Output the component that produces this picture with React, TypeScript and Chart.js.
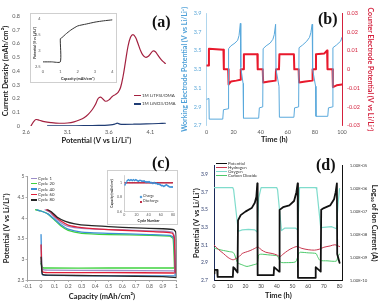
import React, { useEffect, useRef } from "react";
import { Chart, registerables } from "chart.js";
Chart.register(...registerables);

const FONT = "Lato, 'Open Sans', Roboto, sans-serif";

// ---------- Panel (a) ----------
const aPotTFSI = [2.66, 2.69, 2.72, 2.76, 2.82, 2.9, 3.0, 3.1, 3.18, 3.25, 3.3, 3.35, 3.4, 3.44, 3.47, 3.5, 3.53, 3.56, 3.6, 3.64, 3.68, 3.71, 3.74, 3.77, 3.8, 3.83, 3.86, 3.89, 3.92, 3.95, 3.98, 4.01, 4.04, 4.07, 4.1, 4.13, 4.16, 4.19, 4.22, 4.25, 4.28];
const aCurTFSI = [0, 0.03, 0.047, 0.042, 0.032, 0.025, 0.02, 0.022, 0.03, 0.045, 0.06, 0.085, 0.12, 0.16, 0.2, 0.21, 0.195, 0.18, 0.19, 0.215, 0.23, 0.245, 0.28, 0.36, 0.47, 0.58, 0.645, 0.665, 0.645, 0.6, 0.55, 0.515, 0.5, 0.505, 0.525, 0.545, 0.54, 0.515, 0.49, 0.47, 0.455];
const aPotNO3 = [2.86, 3.0, 3.2, 3.4, 3.55, 3.62, 3.67, 3.7, 3.73, 3.78, 3.9, 4.05, 4.2, 4.28];
const aCurNO3 = [0.002, 0.002, 0.002, 0.003, 0.005, 0.008, 0.014, 0.021, 0.014, 0.012, 0.013, 0.015, 0.018, 0.02];
const aXTicks = [2.6, 3.1, 3.6, 4.1];
const aYTicks = [0, 0.1, 0.2, 0.3, 0.4, 0.5, 0.6, 0.7, 0.8];
const aInsetCap = [0, 0.5, 1.0, 1.0, 1.1, 1.3, 1.6, 2.0, 2.5, 3.0, 3.5, 4.0];
const aInsetPot = [2.66, 2.66, 2.66, 3.38, 3.42, 3.52, 3.65, 3.78, 3.84, 3.9, 3.94, 3.97];
const aInsetXTicks = [0, 1, 2, 3, 4];
const aInsetYTicks = [2.5, 3, 3.5, 4];

// ---------- Panel (b) ----------
const bWETime = [0, 1.8, 2, 12, 12.5, 16, 16.3, 18, 21, 23, 24, 25, 25.3, 27, 27.3, 38.5, 39, 41.5, 41.8, 44, 47, 49, 50, 51, 51.3, 53.5, 53.8, 64.5, 65, 68, 68.3, 71, 74, 76, 77, 78, 78.3, 80.5, 80.8, 89.5, 90, 93, 93.3, 96, 99, 100];
const bWEPot = [2.98, 2.99, 2.77, 2.77, 2.87, 2.88, 3.52, 3.55, 3.58, 3.61, 3.66, 3.79, 3.32, 3.15, 2.78, 2.78, 2.89, 2.9, 3.52, 3.55, 3.58, 3.62, 3.67, 3.78, 3.3, 3.12, 2.79, 2.79, 2.89, 2.9, 3.53, 3.56, 3.6, 3.64, 3.69, 3.78, 3.3, 3.12, 2.8, 2.8, 2.89, 2.9, 3.53, 3.56, 3.6, 3.64];
const bCETime = [0, 1.5, 1.8, 12.5, 12.8, 16, 16.3, 18, 22, 25, 25.3, 27.3, 27.6, 37.5, 37.8, 41.5, 41.8, 46, 51, 51.3, 53.5, 53.8, 64.5, 64.8, 68, 68.3, 73, 78, 78.3, 80.5, 80.8, 87, 89, 89.3, 93, 93.3, 96, 100];
const bCEPot = [0.002, 0.002, 0.011, 0.0105, 0.0, 0.0, -0.008, -0.0065, -0.006, -0.0055, 0.0, 0.0, 0.008, 0.008, 0.0, 0.0, -0.007, -0.0065, -0.006, 0.0, 0.0, 0.008, 0.008, 0.0, 0.0, -0.007, -0.0065, -0.006, 0.0, 0.0, 0.008, 0.0085, 0.01, 0.0, 0.0, -0.0095, -0.0085, -0.008];
const bXTicks = [0, 20, 40, 60, 80, 100];
const bYLTicks = [2.7, 2.9, 3.1, 3.3, 3.5, 3.7, 3.9];
const bYRTicks = [-0.03, -0.02, -0.01, 0, 0.01, 0.02, 0.03];

// ---------- Panel (c) ----------
const cCycle1Dis = [[0, 2.95], [0.01, 2.76], [0.05, 2.74], [0.5, 2.73], [0.98, 2.72], [0.99, 2.7]];
const cCycle1Chg = [[0.03, 4.2], [0.06, 4.15], [0.1, 4.02], [0.15, 3.88], [0.2, 3.8], [0.3, 3.75], [0.5, 3.72], [0.7, 3.7], [0.9, 3.68], [0.97, 3.66], [0.985, 3.55], [0.99, 2.72]];
const cCycle20Dis = [[0, 2.9], [0.01, 2.8], [0.05, 2.79], [0.5, 2.79], [0.98, 2.79]];
const cCycle20Chg = [[-0.04, 4.2], [0, 4.17], [0.05, 4.1], [0.1, 3.95], [0.15, 3.8], [0.2, 3.7], [0.3, 3.63], [0.5, 3.6], [0.8, 3.58], [0.95, 3.56], [0.975, 3.5], [0.985, 2.8]];
const cCycle40Dis = [[0, 3.6], [0.005, 2.85], [0.01, 2.63], [0.05, 2.61], [0.5, 2.6], [0.98, 2.6]];
const cCycle40Chg = [[-0.03, 4.2], [0, 4.17], [0.05, 4.1], [0.1, 3.97], [0.15, 3.83], [0.2, 3.73], [0.3, 3.66], [0.5, 3.63], [0.8, 3.6], [0.95, 3.58], [0.98, 3.52], [0.99, 2.6]];
const cCycle60Dis = [[0, 3.35], [0.005, 2.8], [0.01, 2.7], [0.05, 2.68], [0.5, 2.68], [0.98, 2.67]];
const cCycle60Chg = [[0.04, 4.2], [0.07, 4.15], [0.1, 4.05], [0.15, 3.92], [0.2, 3.83], [0.3, 3.77], [0.5, 3.72], [0.7, 3.69], [0.9, 3.66], [0.97, 3.63], [0.985, 3.5], [0.99, 2.67]];
const cCycle80Dis = [[0, 3.05], [0.005, 2.75], [0.01, 2.64], [0.05, 2.62], [0.5, 2.6], [0.9, 2.58], [1.0, 2.56]];
const cCycle80Chg = [[0.05, 4.2], [0.08, 4.14], [0.12, 4.02], [0.18, 3.92], [0.25, 3.86], [0.35, 3.82], [0.5, 3.79], [0.7, 3.76], [0.9, 3.74], [0.98, 3.72], [0.995, 3.65], [1.0, 3.3], [1.0, 2.56]];
const cXTicks = [-0.1, 0, 0.1, 0.2, 0.3, 0.4, 0.5, 0.6, 0.7, 0.8, 0.9, 1];
const cYTicks = [2.5, 3, 3.5, 4, 4.5, 5];
const cCycleNames = ["Cycle 1", "Cycle 20", "Cycle 40", "Cycle 60", "Cycle 80"];
const cInsetCycle = [1, 3, 5, 7, 9, 11, 13, 15, 17, 19, 21, 23, 25, 27, 29, 31, 33, 35, 37, 39, 41, 43, 45, 47, 49, 51, 53, 55, 57, 59, 61, 63, 65, 67, 69, 71, 73, 75, 77, 79];
const cInsetCharge = [0.97, 1.0, 1.03, 1.04, 1.03, 1.04, 1.03, 1.04, 1.03, 1.04, 1.03, 1.02, 1.03, 1.03, 1.02, 1.02, 1.02, 1.01, 1.01, 1.01, 1.01, 1.0, 1.0, 0.99, 1.0, 0.99, 0.99, 0.98, 0.98, 0.97, 0.96, 0.96, 0.95, 0.96, 0.97, 0.96, 0.95, 0.94, 0.94, 0.94];
const cInsetDischarge = [1.0, 1.0, 1.0, 1.0, 1.0, 1.0, 1.0, 1.0, 1.0, 1.0, 1.0, 1.0, 1.0, 1.0, 1.0, 1.0, 1.0, 1.0, 1.0, 1.0, 1.0, 1.0, 1.0, 1.0, 1.0, 1.0, 1.0, 1.0, 1.0, 1.0, 1.0, 1.0, 1.0, 1.0, 1.0, 1.0, 1.0, 1.0, 1.0, 1.0];
const cInsetXTicks = [0, 20, 40, 60, 80];
const cInsetYTicks = [0.6, 0.8, 1];

// ---------- Panel (d) ----------
const dPotTime = [0, 0.3, 2, 2.3, 12, 12.3, 13, 15, 15.3, 17, 20, 24, 26, 27, 27.6, 27.8, 38, 38.3, 39, 41.5, 41.8, 44, 48, 51, 52.5, 53.3, 53.5, 64.5, 64.8, 65.5, 68, 68.3, 70, 74, 76.5, 77.5, 78.3, 78.5, 80];
const dPot = [2.78, 2.82, 2.82, 2.74, 2.74, 2.85, 2.84, 2.79, 3.38, 3.44, 3.48, 3.52, 3.58, 3.65, 3.8, 2.76, 2.76, 2.85, 2.84, 2.8, 3.5, 3.53, 3.55, 3.6, 3.7, 3.8, 2.73, 2.73, 2.85, 2.84, 2.8, 3.5, 3.52, 3.55, 3.62, 3.7, 3.8, 3.0, 2.9];
const dH2Time = [0, 3, 6, 9, 12, 14, 16, 18, 20, 23, 26, 28, 30, 33, 37, 40, 42, 44, 47, 50, 53, 56, 60, 64, 67, 70, 74, 77, 80];
const dH2 = [3.5e-9, 2.2e-9, 1.5e-9, 1.0e-9, 8e-10, 9e-10, 1.1e-9, 1.5e-9, 1.7e-9, 2.0e-9, 2.5e-9, 2.9e-9, 2.2e-9, 1.7e-9, 1.5e-9, 1.3e-9, 1.1e-9, 1.4e-9, 2.0e-9, 2.6e-9, 3.0e-9, 2.5e-9, 2.2e-9, 2.1e-9, 2.3e-9, 2.8e-9, 3.2e-9, 3.6e-9, 3.0e-9];
const dO2Time = [0, 12, 12.5, 15.5, 18, 22, 26, 27.5, 28.5, 30, 40, 40.5, 43, 45, 52, 53.3, 54.5, 65, 65.5, 68, 75, 78, 79, 80];
const dO2 = [1.1e-6, 1.1e-6, 9e-7, 1.4e-8, 1.6e-8, 1.7e-8, 1.6e-8, 1.3e-8, 4e-7, 1.1e-6, 1.1e-6, 9e-7, 1.5e-8, 1.9e-8, 1.9e-8, 1.6e-8, 1.1e-6, 1.1e-6, 9e-7, 2.0e-8, 2.2e-8, 1.8e-8, 2e-7, 1.0e-6];
const dCO2Time = [0, 5, 10, 12, 13, 15, 18, 21, 25, 27.5, 28.5, 30, 35, 40, 41, 42.5, 46, 52, 54, 55, 60, 65, 66, 67.5, 72, 78, 79, 80];
const dCO2 = [2.6e-9, 2.1e-9, 1.8e-9, 1.7e-9, 1.4e-9, 6e-10, 4.8e-10, 4.1e-10, 4.8e-10, 5.5e-10, 1.3e-9, 1.4e-9, 1.3e-9, 1.2e-9, 1.0e-9, 6.2e-10, 6e-10, 6.5e-10, 1.5e-9, 1.7e-9, 1.6e-9, 1.5e-9, 1.1e-9, 7.5e-10, 7.2e-10, 7e-10, 1.2e-9, 1.4e-9];
const dXTicks = [0, 10, 20, 30, 40, 50, 60, 70, 80];
const dYLTicks = [2.7, 2.9, 3.1, 3.3, 3.5, 3.7, 3.9];
const dYRTicks = [1e-10, 1e-9, 1e-8, 1e-7, 1e-6, 1e-5];
const dSeriesNames = ["Potential", "Hydrogen", "Oxygen", "Carbon Dioxide"];

// ---------- colours ----------
const cColors = ["#9b8dc8", "#3fd23f", "#3b8fd6", "#e0203a", "#262626"];
const dColors = ["#111111", "#c8374f", "#7fdccc", "#4cc86a"];

// ---------- helpers ----------
const num = (v: any) => String(Number(Number(v).toFixed(4)));
const sci = (v: any) => {
  const e = Math.round(Math.log10(Number(v)));
  return "1.00E" + (e < 0 ? "-" : "+") + String(Math.abs(e)).padStart(2, "0");
};
const setTicks = (vals: number[]) => (s: any) => {
  s.ticks = vals.map((value) => ({ value }));
};
const fnt = (size: number, weight: string = "normal") => ({ family: FONT, size, weight, lineHeight: 1.2 });
const xy = (xs: number[], ys: number[]) => xs.map((x, i) => ({ x, y: ys[i] }));
const pairs = (p: number[][]) => p.map(([x, y]) => ({ x, y }));

function axis(o: any) {
  const vertical = o.pos === "left" || o.pos === "right";
  return {
    type: o.type || "linear",
    position: o.pos,
    min: o.min,
    max: o.max,
    afterBuildTicks: setTicks(o.ticks),
    afterFit: (s: any) => {
      if (vertical) s.width = o.size;
      else s.height = o.size;
    },
    grid: {
      display: !!o.tickLen,
      drawOnChartArea: false,
      drawTicks: !!o.tickLen,
      tickLength: o.tickLen || 0,
      color: o.border || "transparent",
      lineWidth: 0.8,
    },
    border: { display: !!o.border, color: o.border || "transparent", width: o.borderWidth || 1 },
    ticks: {
      font: fnt(o.tickFont),
      color: o.tickColor,
      padding: o.tickPad,
      callback: o.cb || num,
      autoSkip: false,
      maxRotation: 0,
      minRotation: 0,
    },
    title: o.title
      ? {
          display: true,
          text: o.title,
          font: fnt(o.titleFont, "bold"),
          color: o.titleColor,
          padding: { top: o.titlePad, bottom: o.titlePad },
        }
      : { display: false },
  };
}

const baseOptions = (padding: any) => ({
  responsive: false,
  animation: false,
  devicePixelRatio: 1,
  events: [],
  plugins: { legend: { display: false }, tooltip: { enabled: false } },
  layout: { padding },
  elements: { point: { radius: 0 }, line: { borderJoinStyle: "round", borderCapStyle: "round" } },
});

// ---------- chart configs ----------
const makeA = () => ({
  type: "line",
  data: {
    datasets: [
      { label: "1M LiTFSI/DMA", data: xy(aPotTFSI, aCurTFSI), borderColor: "#a3203f", borderWidth: 1.2, tension: 0.35, pointRadius: 0 },
      { label: "1M LiNO3/DMA", data: xy(aPotNO3, aCurNO3), borderColor: "#1f3c74", borderWidth: 1.2, tension: 0.2, pointRadius: 0 },
    ],
  },
  options: {
    ...baseOptions({ left: 0, top: 16, right: 23, bottom: 3 }),
    scales: {
      x: axis({ pos: "bottom", min: 2.6, max: 4.3, ticks: aXTicks, size: 21, tickFont: 5.5, tickColor: "#595959", tickPad: 3, title: "Potential (V vs Li/Li\u207A)", titleFont: 7.5, titleColor: "#222", titlePad: 1.5 }),
      y: axis({ pos: "left", min: 0, max: 0.8, ticks: aYTicks, size: 26, tickFont: 5.5, tickColor: "#595959", tickPad: 6, title: "Current Density (mAh/cm\u00B2)", titleFont: 7.5, titleColor: "#222", titlePad: 1.5 }),
    },
  },
});

const makeAInset = () => ({
  type: "line",
  data: {
    datasets: [{ label: "Inset", data: xy(aInsetCap, aInsetPot), borderColor: "#333333", borderWidth: 1, tension: 0.2, pointRadius: 0 }],
  },
  options: {
    ...baseOptions({ left: 0, top: 4, right: 2, bottom: 1 }),
    scales: {
      x: axis({ pos: "bottom", min: 0, max: 4, ticks: aInsetXTicks, size: 14, tickFont: 4, tickColor: "#595959", tickPad: 2.5, title: "Capacity (mAh/cm\u00B2)", titleFont: 3.8, titleColor: "#222", titlePad: 0 }),
      y: axis({ pos: "left", min: 2.5, max: 4, ticks: aInsetYTicks, size: 12, tickFont: 4, tickColor: "#595959", tickPad: 2.5, title: "Potential (V vs Li/Li\u207A)", titleFont: 3.4, titleColor: "#222", titlePad: 1.8 }),
    },
  },
});

const makeB = () => ({
  type: "line",
  data: {
    datasets: [
      { label: "Working Electrode", data: xy(bWETime, bWEPot), borderColor: "#5aa9dc", borderWidth: 1, pointRadius: 0, yAxisID: "yL" },
      { label: "Counter Electrode", data: xy(bCETime, bCEPot), borderColor: "#e8192c", borderWidth: 2, pointRadius: 0, yAxisID: "yR" },
    ],
  },
  options: {
    ...baseOptions({ left: 0, top: 13, right: 0, bottom: 4 }),
    scales: {
      x: axis({ pos: "bottom", min: 0, max: 100, ticks: bXTicks, size: 20.3, tickFont: 5.5, tickColor: "#595959", tickPad: 3, title: "Time (h)", titleFont: 7.5, titleColor: "#222", titlePad: 1.5 }),
      yL: axis({ pos: "left", min: 2.7, max: 3.9, ticks: bYLTicks, size: 30.5, tickFont: 5.5, tickColor: "#5da8d8", tickPad: 5, title: "Working Electrode Potential (V vs Li/Li\u207A)", titleFont: 7, titleColor: "#4ea0d8", titlePad: 4.8, border: "#9ccbe8", borderWidth: 0.8 }),
      yR: axis({ pos: "right", min: -0.03, max: 0.03, ticks: bYRTicks, size: 38, tickFont: 5.5, tickColor: "#d4213d", tickPad: 5, title: "Counter Electrode Potential (V vs Li/Li\u207A)", titleFont: 7, titleColor: "#d4213d", titlePad: 5.8, border: "#d4213d", borderWidth: 1 }),
    },
  },
});

const makeC = () => {
  const dis = [cCycle1Dis, cCycle20Dis, cCycle40Dis, cCycle60Dis, cCycle80Dis];
  const chg = [cCycle1Chg, cCycle20Chg, cCycle40Chg, cCycle60Chg, cCycle80Chg];
  const order = [4, 3, 2, 1, 0];
  return {
    type: "line",
    data: {
      datasets: order.map((i) => ({
        label: cCycleNames[i],
        data: [...pairs(dis[i]), { x: dis[i][dis[i].length - 1][0], y: null }, ...pairs(chg[i])],
        borderColor: cColors[i],
        borderWidth: 1.3,
        pointRadius: 0,
        tension: 0.15,
        spanGaps: false,
      })),
    },
    options: {
      ...baseOptions({ left: 0, top: 26.7, right: 13.5, bottom: 2 }),
      scales: {
        x: axis({ pos: "bottom", min: -0.1, max: 1, ticks: cXTicks, size: 21, tickFont: 5, tickColor: "#595959", tickPad: 1.5, tickLen: 2, border: "#a0a0a0", title: "Capacity (mAh/cm\u00B2)", titleFont: 7.5, titleColor: "#222", titlePad: 0 }),
        y: axis({ pos: "left", min: 2.5, max: 5, ticks: cYTicks, size: 27.5, tickFont: 5, tickColor: "#595959", tickPad: 1, tickLen: 2, border: "#a0a0a0", title: "Potential (V vs Li/Li\u207A)", titleFont: 7.5, titleColor: "#222", titlePad: 2.5 }),
      },
    },
  };
};

const makeCInset = () => ({
  type: "line",
  data: {
    datasets: [
      { label: "Charge", data: xy(cInsetCycle, cInsetCharge), borderColor: "#3b8fd6", backgroundColor: "#3b8fd6", borderWidth: 0.8, pointRadius: 1.1, pointStyle: "rectRot", pointBorderWidth: 0 },
      { label: "Discharge", data: xy(cInsetCycle, cInsetDischarge), borderColor: "#c0304a", backgroundColor: "#c0304a", borderWidth: 0.8, pointRadius: 1.1, pointStyle: "rect", pointBorderWidth: 0 },
    ],
  },
  options: {
    ...baseOptions({ left: 0, top: 4.2, right: 0.3, bottom: 0.3 }),
    scales: {
      x: axis({ pos: "bottom", min: 0, max: 80, ticks: cInsetXTicks, size: 12, tickFont: 3.5, tickColor: "#595959", tickPad: 1.5, border: "#b0b0b0", borderWidth: 0.6, title: "Cycle Number", titleFont: 3.5, titleColor: "#222", titlePad: 0.8 }),
      y: axis({ pos: "left", min: 0.6, max: 1.1, ticks: cInsetYTicks, size: 16.3, tickFont: 3.5, tickColor: "#595959", tickPad: 2.3, border: "#b0b0b0", borderWidth: 0.6, title: "Capacity (mAh/cm\u00B2)", titleFont: 3.2, titleColor: "#222", titlePad: 1.7 }),
    },
  },
});

const makeD = () => ({
  type: "line",
  data: {
    datasets: [
      { label: dSeriesNames[0], data: xy(dPotTime, dPot), borderColor: dColors[0], borderWidth: 1.8, pointRadius: 0, yAxisID: "yL" },
      { label: dSeriesNames[1], data: xy(dH2Time, dH2), borderColor: dColors[1], borderWidth: 1, pointRadius: 0, tension: 0.3, yAxisID: "yR" },
      { label: dSeriesNames[2], data: xy(dO2Time, dO2), borderColor: dColors[2], borderWidth: 1.2, pointRadius: 0, yAxisID: "yR" },
      { label: dSeriesNames[3], data: xy(dCO2Time, dCO2), borderColor: dColors[3], borderWidth: 1, pointRadius: 0, tension: 0.2, yAxisID: "yR" },
    ],
  },
  options: {
    ...baseOptions({ left: 0, top: 15.7, right: 0, bottom: 2 }),
    scales: {
      x: axis({ pos: "bottom", min: 0, max: 82, ticks: dXTicks, size: 20.5, tickFont: 5, tickColor: "#404040", tickPad: 3, border: "#111", title: "Time (h)", titleFont: 7.5, titleColor: "#222", titlePad: 0.8 }),
      yL: axis({ pos: "left", min: 2.7, max: 4.0, ticks: dYLTicks, size: 28, tickFont: 5, tickColor: "#2f3f6f", tickPad: 6, border: "#1a2a5a", title: "Potential (V vs Li/Li\u207A)", titleFont: 7.5, titleColor: "#222", titlePad: 6.5 }),
      yR: axis({ type: "logarithmic", pos: "right", min: 1e-10, max: 1e-5, ticks: dYRTicks, size: 37.3, tickFont: 4.3, tickColor: "#404040", tickPad: 7, border: "#111", cb: sci, title: "Log\u2081\u2080 of Ion Current (A)", titleFont: 7.5, titleColor: "#222", titlePad: 0.8 }),
    },
  },
});

// ---------- components ----------
function ChartCanvas({ x, y, w, h, make }: { x: number; y: number; w: number; h: number; make: () => any }) {
  const ref = useRef<HTMLCanvasElement | null>(null);
  useEffect(() => {
    const chart = new Chart(ref.current as HTMLCanvasElement, make() as any);
    return () => chart.destroy();
  }, []);
  return <canvas ref={ref} width={w} height={h} style={{ position: "absolute", left: x, top: y, width: w, height: h }} />;
}

function Label({ x, y, size, text, color = "#333", weight = "normal", family = FONT }: any) {
  return (
    <div style={{ position: "absolute", left: x, top: y - size * 0.6, fontSize: size, lineHeight: `${size * 1.2}px`, color, fontWeight: weight, fontFamily: family, whiteSpace: "nowrap" }}>
      {text}
    </div>
  );
}

function LineSwatch({ x, y, w, color, lw = 1.2 }: any) {
  return <div style={{ position: "absolute", left: x, top: y - lw / 2, width: w, height: lw, background: color }} />;
}

function Box({ x, y, w, h }: any) {
  return <div style={{ position: "absolute", left: x, top: y, width: w, height: h, border: "1px solid #cfcfcf", boxSizing: "border-box", background: "#fff" }} />;
}

export default function App() {
  const letter = { family: "'Liberation Serif', 'DejaVu Serif', serif", weight: "bold", size: 16, color: "#111" };
  return (
    <div style={{ position: "fixed", left: 0, top: 0, width: 380, height: 303, background: "#fff", overflow: "hidden" }}>
      <ChartCanvas x={0} y={0} w={190} h={150} make={makeA} />
      <ChartCanvas x={176} y={0} w={204} h={150} make={makeB} />
      <ChartCanvas x={0} y={150} w={190} h={153} make={makeC} />
      <ChartCanvas x={186} y={150} w={194} h={153} make={makeD} />

      {/* inset (a) */}
      <Box x={30} y={13} w={87} h={70} />
      <ChartCanvas x={31} y={14} w={85} h={68} make={makeAInset} />
      {/* inset (c) */}
      <Box x={107} y={170} w={71} h={55} />
      <ChartCanvas x={108} y={171} w={69} h={53} make={makeCInset} />

      {/* legend (a) */}
      <LineSwatch x={134} y={95.5} w={7} color="#a3203f" />
      <Label x={142} y={95.5} size={4.5} text="1M LiTFSI/DMA" />
      <LineSwatch x={134} y={104} w={7} color="#1f3c74" />
      <Label x={142} y={104} size={4.5} text="1M LiNO3/DMA" />

      {/* legend (c) */}
      {cCycleNames.map((n, i) => (
        <React.Fragment key={n}>
          <LineSwatch x={31} y={178.3 + i * 5.4} w={6} color={cColors[i]} lw={1.3} />
          <Label x={38} y={178.3 + i * 5.4} size={4.3} text={n} />
        </React.Fragment>
      ))}
      {/* legend inset (c) */}
      <div style={{ position: "absolute", left: 139.5, top: 195.5, width: 2, height: 2, background: "#3b8fd6", transform: "rotate(45deg)" }} />
      <Label x={143} y={196.5} size={3.6} text="Charge" />
      <div style={{ position: "absolute", left: 139.5, top: 200.5, width: 2, height: 2, background: "#c0304a" }} />
      <Label x={143} y={201.5} size={3.6} text="Discharge" />

      {/* legend (d) */}
      {dSeriesNames.map((n, i) => (
        <React.Fragment key={n}>
          <LineSwatch x={216} y={163.3 + i * 4} w={11} color={dColors[i]} lw={i === 0 ? 1.6 : 1.1} />
          <Label x={228} y={163.3 + i * 4} size={4.3} text={n} />
        </React.Fragment>
      ))}

      {/* panel letters */}
      <Label x={152} y={22} {...letter} text="(a)" />
      <Label x={318} y={19} {...letter} text="(b)" />
      <Label x={152} y={163} {...letter} text="(c)" />
      <Label x={316} y={165} {...letter} text="(d)" />
    </div>
  );
}
